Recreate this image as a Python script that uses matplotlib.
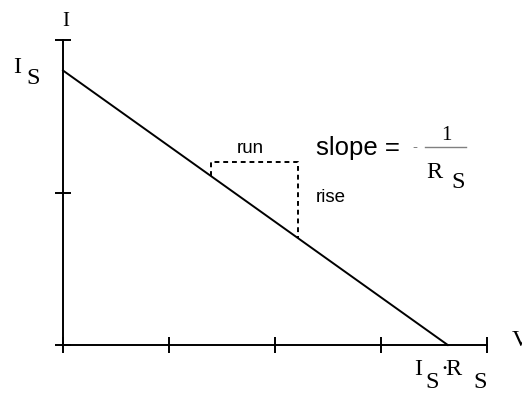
import matplotlib
matplotlib.use("Agg")
import matplotlib.pyplot as plt

# axis ticks (units of the grid)
v_ticks = [0, 1, 2, 3, 4]
i_ticks = [0, 1, 2]

# load line: from (0, Is) down to (Is*Rs, 0)
i_s = 1.8
v_end = 3.63
line_v = [0, v_end]
line_i = [i_s, 0]

# rise / run guide
run_v = [1.4, 2.22]
run_top = 1.2

serif = "Liberation Serif"
sans = "Liberation Sans"

fig = plt.figure(figsize=(5.22, 3.94), dpi=100)
ax = fig.add_axes([63 / 522, 49 / 394, 424 / 522, 305 / 394])
ax.set_xlim(0, 4)
ax.set_ylim(0, 2)
ax.patch.set_visible(False)

for side in ["top", "right"]:
    ax.spines[side].set_visible(False)
for side in ["left", "bottom"]:
    ax.spines[side].set_linewidth(1.4)

ax.set_xticks(v_ticks)
ax.set_yticks(i_ticks)
ax.set_xticklabels([])
ax.set_yticklabels([])
ax.tick_params(direction="inout", length=12, width=1.4, color="black")

ax.plot(line_v, line_i, color="black", lw=1.4, clip_on=False)

# dashed run/rise
y_left = i_s * (1 - run_v[0] / v_end)
y_right = i_s * (1 - run_v[1] / v_end)
ax.plot([run_v[0], run_v[0], run_v[1], run_v[1]],
        [y_left, run_top, run_top, y_right],
        color="black", lw=1.4, ls=(0, (2.5, 2)))

# labels
ax.text(0.03, 2.09, "I", family=serif, fontsize=15, ha="center", va="baseline", clip_on=False)
ax.text(-0.47, 1.784, "I", family=serif, fontsize=17.5, ha="left", va="baseline", clip_on=False)
ax.text(-0.35, 1.71, "S", family=serif, fontsize=17.5, ha="left", va="baseline", clip_on=False)

ax.text(1.64, 1.259, "run", family=sans, fontsize=13.5, ha="left", va="baseline")
ax.text(2.387, 0.938, "rise", family=sans, fontsize=13.5, ha="left", va="baseline")
ax.text(2.387, 1.246, "slope =", family=sans, fontsize=18.5, ha="left", va="baseline")

ax.text(3.32, 1.298, "-", family=sans, fontsize=11, color="gray", ha="center", va="center")
ax.plot([3.415, 3.80], [1.298, 1.298], color="gray", lw=1, clip_on=False)
ax.text(3.613, 1.344, "1", family=serif, fontsize=15, ha="center", va="baseline")
ax.text(3.43, 1.095, "R", family=serif, fontsize=17.5, ha="left", va="baseline")
ax.text(3.66, 1.03, "S", family=serif, fontsize=17.5, ha="left", va="baseline")

ax.text(3.31, -0.197, "I", family=serif, fontsize=17.5, ha="left", va="baseline", clip_on=False)
ax.text(3.42, -0.282, "S", family=serif, fontsize=17.5, ha="left", va="baseline", clip_on=False)
ax.text(3.56, -0.197, "·", family=serif, fontsize=17.5, ha="left", va="baseline", clip_on=False)
ax.text(3.61, -0.197, "R", family=serif, fontsize=17.5, ha="left", va="baseline", clip_on=False)
ax.text(3.87, -0.282, "S", family=serif, fontsize=17.5, ha="left", va="baseline", clip_on=False)
ax.text(4.236, -0.007, "V", family=serif, fontsize=17.5, ha="left", va="baseline", clip_on=False)

fig.savefig("out.png", dpi=100)
